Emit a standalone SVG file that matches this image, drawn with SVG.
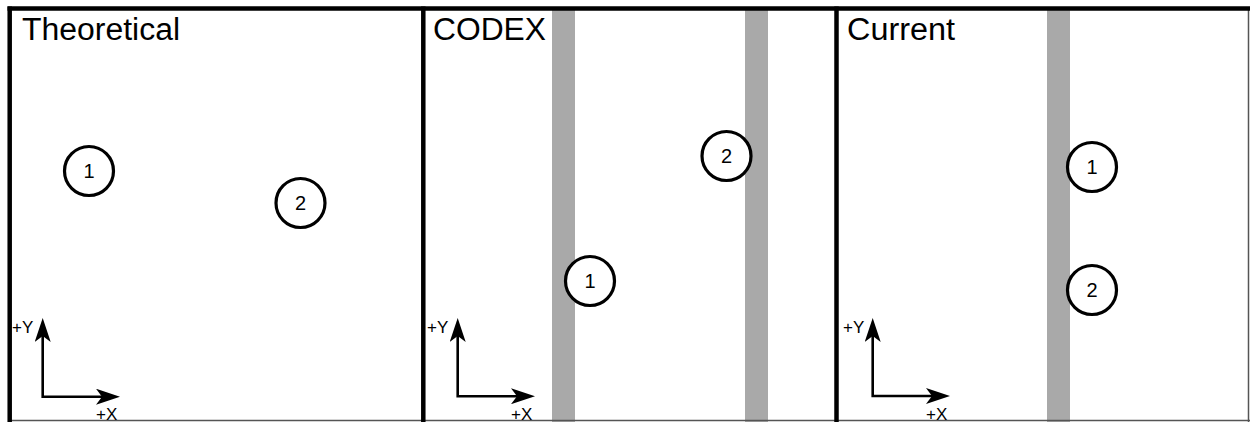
<svg xmlns="http://www.w3.org/2000/svg" width="1250" height="422" viewBox="0 0 1250 422">
<style>
.frame{stroke:#000;stroke-width:4.5;fill:none}
.thin{stroke:#555;stroke-width:1.5;fill:none}
.bar{fill:#a9a9a9}
.title{font-family:"Liberation Sans",Arial,sans-serif;font-size:31px;fill:#000}
.ax{font-family:"Liberation Sans",Arial,sans-serif;font-size:17px;fill:#000}
.axis{stroke:#000;stroke-width:2.6;fill:none;marker-start:url(#ah);marker-end:url(#ah)}
.node circle{fill:#fff;stroke:#000;stroke-width:3.2}
.node text{font-family:"Liberation Sans",Arial,sans-serif;font-size:20px;fill:#000;text-anchor:middle}
</style>
<defs>
<marker id="ah" viewBox="0 0 24 16" refX="6" refY="8" markerWidth="24" markerHeight="16" markerUnits="userSpaceOnUse" orient="auto-start-reverse">
<path d="M0,0 L24,8 L0,16 L6,8 Z" fill="#000"/>
</marker>
</defs>
<rect width="1250" height="422" fill="#fff"/>
<g id="bars">
<rect class="bar" x="552" y="10" width="23" height="412"/>
<rect class="bar" x="745" y="10" width="23" height="412"/>
<rect class="bar" x="1047" y="10" width="23" height="412"/>
</g>
<g id="frame">
<line class="thin" x1="9" y1="420.5" x2="1250" y2="420.5"/>
<line class="thin" x1="1248.5" y1="8" x2="1248.5" y2="422"/>
<line class="frame" x1="7.5" y1="8.5" x2="1250" y2="8.5"/>
<line class="frame" x1="9.7" y1="6.5" x2="9.7" y2="422"/>
<line class="frame" x1="423.3" y1="6.5" x2="423.3" y2="422"/>
<line class="frame" x1="836.5" y1="6.5" x2="836.5" y2="422"/>
</g>
<g id="titles">
<text class="title" x="22" y="40" textLength="158" lengthAdjust="spacingAndGlyphs">Theoretical</text>
<text class="title" x="433" y="40" textLength="113" lengthAdjust="spacingAndGlyphs">CODEX</text>
<text class="title" x="847" y="40" textLength="108" lengthAdjust="spacingAndGlyphs">Current</text>
</g>
<g id="connectors">
<path class="axis" d="M42.7,336 V396.7 H102"/>
<path class="axis" d="M457.7,336 V396.2 H517"/>
<path class="axis" d="M872.7,336 V396 H932"/>
</g>
<g id="axis-labels">
<text class="ax" x="12" y="333">+Y</text>
<text class="ax" x="96" y="420">+X</text>
<text class="ax" x="427" y="333">+Y</text>
<text class="ax" x="511" y="420">+X</text>
<text class="ax" x="843" y="333">+Y</text>
<text class="ax" x="926" y="420">+X</text>
</g>
<g id="theo-1" class="node"><circle cx="89" cy="171" r="24.5"/><text x="89" y="178">1</text></g>
<g id="theo-2" class="node"><circle cx="300.5" cy="203" r="24.5"/><text x="300.5" y="210">2</text></g>
<g id="codex-1" class="node"><circle cx="590" cy="281" r="24.5"/><text x="590" y="288">1</text></g>
<g id="codex-2" class="node"><circle cx="726.5" cy="156" r="24.5"/><text x="726.5" y="163">2</text></g>
<g id="current-1" class="node"><circle cx="1092" cy="167" r="24.5"/><text x="1092" y="174">1</text></g>
<g id="current-2" class="node"><circle cx="1092" cy="290" r="24.5"/><text x="1092" y="297">2</text></g>
</svg>
